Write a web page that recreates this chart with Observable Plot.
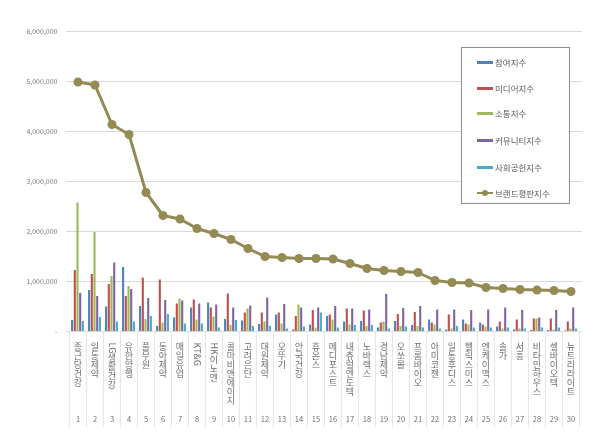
<!DOCTYPE html>
<html>
<head>
<meta charset="utf-8">
<script src="https://cdn.jsdelivr.net/npm/d3@7"></script>
<script src="https://cdn.jsdelivr.net/npm/@observablehq/plot@0.6"></script>
<style>
  html, body { margin: 0; padding: 0; background: #fff; }
  #wrap { position: relative; width: 600px; height: 446px; font-family: "Noto Sans CJK KR", "Noto Sans", sans-serif; }
  #wrap svg text { filter: grayscale(1); }
  #legend { position: absolute; left: 461px; top: 47px; width: 109px; height: 157px; border: 1px solid #8c8c8c; background: #fff; box-sizing: border-box; }
  .item { position: absolute; left: 15px; height: 12px; display: flex; align-items: center; font-size: 8.5px; color: #595959; }
  .item span { filter: grayscale(1); }
  .sw { width: 16px; height: 3px; margin-right: 2px; position: relative; }
  .dot { position: absolute; left: 5px; top: -2px; width: 6px; height: 6px; border-radius: 50%; }
</style>
</head>
<body>
<div id="wrap"></div>
<script>
const categories = ["종근당건강","일동제약","LG생활건강","유한양행","풀무원","동아제약","매일유업","KT&G","HK이노엔","콜마비앤에이치","고려은단","대원제약","오뚜기","안국건강","휴온스","메디포스트","내츄럴엔도텍","노바렉스","경남제약","오쏘몰","프롬바이오","아미코젠","일동후디스","헬릭스미스","엔케이맥스","솔가","서흥","비타민하우스","셀바이오텍","뉴트리라이트"];
const ranks = ["1","2","3","4","5","6","7","8","9","10","11","12","13","14","15","16","17","18","19","20","21","22","23","24","25","26","27","28","29","30"];
const seriesNames = ["참여지수","미디어지수","소통지수","커뮤니티지수","사회공헌지수","브랜드평판지수"];
const seriesColors = ["#4f81bd","#c0504d","#9bbb59","#8064a2","#4bacc6","#948a54"];

const participation = [220000,820000,490000,1280000,500000,100000,270000,470000,570000,240000,210000,140000,330000,30000,130000,300000,190000,200000,70000,200000,120000,230000,30000,230000,170000,90000,30000,20000,20000,10000];
const media = [1220000,1140000,940000,700000,1070000,1030000,550000,630000,470000,750000,370000,370000,370000,300000,420000,330000,450000,410000,170000,340000,380000,170000,330000,150000,130000,190000,230000,250000,250000,190000];
const communication = [2570000,1980000,1100000,900000,240000,170000,650000,230000,290000,120000,450000,190000,150000,530000,70000,230000,130000,100000,190000,100000,100000,130000,50000,130000,90000,50000,50000,250000,30000,50000];
const community = [760000,700000,1370000,840000,660000,620000,610000,550000,530000,470000,510000,670000,540000,470000,470000,500000,450000,430000,740000,460000,500000,430000,430000,420000,430000,470000,420000,270000,420000,470000];
const social = [200000,280000,190000,190000,300000,340000,150000,150000,70000,220000,100000,100000,50000,90000,370000,70000,120000,120000,50000,90000,70000,50000,100000,70000,70000,70000,50000,70000,70000,50000];
const brand = [4990000,4930000,4140000,3940000,2780000,2320000,2250000,2060000,1960000,1840000,1660000,1500000,1480000,1460000,1460000,1450000,1360000,1260000,1220000,1200000,1180000,1020000,980000,970000,880000,860000,840000,830000,820000,800000];
const yTicks = [0,1000000,2000000,3000000,4000000,5000000,6000000];

const barSeries = [participation, media, communication, community, social];
const W = 600, H = 446, mL = 66, mR = 18, mT = 31, mB = 115;
const band = (W - mL - mR) / categories.length;
const barW = 2.3, pitch = 2.7;
const inset = (band - barW) / 2;

const bars = barSeries.map((s, k) => Plot.barY(categories, {
  x: d => d, y: (d, i) => s[i], fill: seriesColors[k],
  insetLeft: inset, insetRight: inset, dx: (k - 2) * pitch
}));

const chart = Plot.plot({
  width: W, height: H,
  marginLeft: mL, marginRight: mR, marginTop: mT, marginBottom: mB,
  style: { fontSize: "7px", color: "#7a7a7a", fontFamily: "'Noto Sans CJK KR', 'Noto Sans', sans-serif", background: "#fff" },
  x: { type: "band", domain: categories, padding: 0, axis: null },
  y: { domain: [0, 6000000], ticks: yTicks, tickSize: 0, tickPadding: 9, label: null,
       tickFormat: d => d === 0 ? "-" : d3.format(",")(d) },
  marks: [
    Plot.ruleY(yTicks, { stroke: "#d9d9d9", strokeWidth: 1 }),
    Plot.ruleX(categories, { x: d => d, dx: -band / 2, y1: 0, y2: -1920000, stroke: "#e3e3e3" }),
    Plot.ruleX([categories[categories.length - 1]], { x: d => d, dx: band / 2, y1: 0, y2: -1920000, stroke: "#e3e3e3" }),
    ...bars,
    Plot.line(categories, { x: d => d, y: (d, i) => brand[i], stroke: seriesColors[5], strokeWidth: 3 }),
    Plot.dot(categories, { x: d => d, y: (d, i) => brand[i], r: 4.5, fill: seriesColors[5] }),
    Plot.text(categories, { x: d => d, y: 0, text: d => d, dy: 11, textAnchor: "start", fontSize: 9, fill: "#6e6e6e" }),
    Plot.text(categories, { x: d => d, y: 0, text: (d, i) => ranks[i], dy: 88, fontSize: 7.5, fill: "#6e6e6e" })
  ]
});

// vertical Korean labels
const textGroups = chart.querySelectorAll('g[aria-label="text"]');
if (textGroups.length) {
  textGroups[0].querySelectorAll("text").forEach(t => {
    t.style.writingMode = "vertical-rl";
    t.style.textOrientation = "mixed";
    t.removeAttribute("y");
  });
}

const wrap = document.getElementById("wrap");
wrap.appendChild(chart);

const legend = document.createElement("div");
legend.id = "legend";
const ys = [8, 34, 59, 86, 113, 139];
seriesNames.forEach((name, k) => {
  const it = document.createElement("div");
  it.className = "item";
  it.style.top = ys[k] + "px";
  const sw = document.createElement("div");
  sw.className = "sw";
  sw.style.background = seriesColors[k];
  if (k === 5) {
    sw.style.height = "2px";
    const dt = document.createElement("div");
    dt.className = "dot";
    dt.style.background = seriesColors[k];
    sw.appendChild(dt);
  }
  it.appendChild(sw);
  const tx = document.createElement("span");
  tx.textContent = name;
  it.appendChild(tx);
  legend.appendChild(it);
});
wrap.appendChild(legend);
</script>
</body>
</html>
